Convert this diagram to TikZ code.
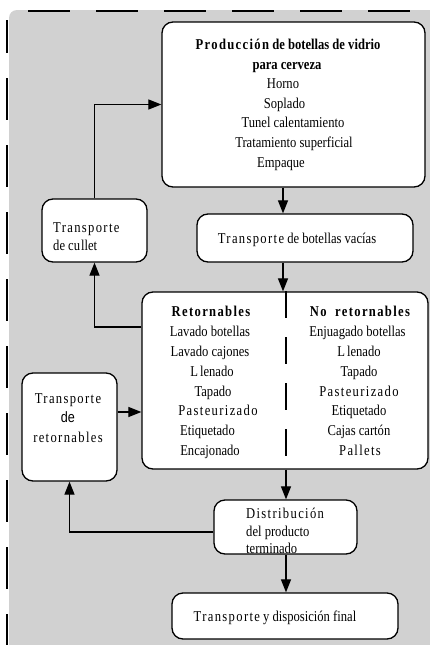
\documentclass[tikz,border=0pt]{standalone}
\usepackage{fontspec}
\setmainfont{Liberation Serif}[FakeStretch=0.84]
\newfontfamily\spacedfont{Liberation Serif}[FakeStretch=0.84, LetterSpace=9]
\newfontfamily\arialfont{Liberation Sans}[FakeStretch=0.84]
\usetikzlibrary{arrows.meta}
\definecolor{panel}{RGB}{209,209,209}

\begin{document}
\begin{tikzpicture}[x=1pt,y=-1pt,
  box/.style={draw, line width=1.3pt, rounded corners=11pt, fill=white, inner sep=0pt},
  flow/.style={line width=1.2pt, -{Triangle[length=13pt,width=10pt]}},
  txt/.style={anchor=base, inner sep=0pt, font=\fontsize{15}{17}\selectfont},
  ltxt/.style={txt, anchor=base west},
  frame/.style={line width=1.4pt, dash pattern=on 42pt off 26pt}]

\useasboundingbox (0,0) rectangle (430,645);

% panel background with its dashed top and left edges
\fill[white] (0,0) rectangle (430,645);
\fill[panel] (9,660) [rounded corners=8pt] -- (9,10) -- (450,10) [sharp corners] -- (450,660) -- cycle;
\draw[frame] (28,11) -- (430,11);
\draw[frame, dash pattern=on 42pt off 25pt, dash phase=9pt] (7,20) -- (7,645);

% boxes
\node[box, minimum width=263pt, minimum height=165pt] (prod)   at (293.5,104.5) {};
\node[box, minimum width=105pt, minimum height=63pt]  (cullet) at (94.5,230.5) {};
\node[box, minimum width=216pt, minimum height=48pt]  (vacias) at (305,238) {};
\node[box, minimum width=286pt, minimum height=177pt] (ret)    at (285,380.5) {};
\node[box, minimum width=95pt,  minimum height=108pt] (tret)   at (69.5,427) {};
\node[box, minimum width=143pt, minimum height=54pt]  (dist)   at (285.5,527) {};
\node[box, minimum width=226pt, minimum height=46pt]  (final)  at (285,616) {};

% production of glass bottles
\node[txt] (p0) at (288,49) {\bfseries{\spacedfont Producción} de botellas de vidrio};
\node[txt] (p1) at (287,69) {\bfseries para cerveza};
\node[txt] (p2) at (283,88) {Horno};
\node[txt] (p3) at (284.5,108) {Soplado};
\node[txt] (p4) at (293,127.5) {Tunel calentamiento};
\node[txt] (p5) at (294,147) {Tratamiento superficial};
\node[txt] (p6) at (281,167) {Empaque};

% transport boxes
\node[ltxt] (c0) at (53,232) {\spacedfont Transporte};
\node[ltxt] (c1) at (53,250) {de cu\kern1pt llet};
\node[txt]  (v0) at (297,243) {{\spacedfont Transporte} de botellas vacías};
\node[txt]  (r0) at (68,403) {\spacedfont Transporte};
\node[txt]  (r1) at (68,422) {\arialfont de};
\node[txt]  (r2) at (68,442) {\spacedfont retornables};

% returnable / non-returnable columns
\node[txt] (a0) at (211,316) {\bfseries\spacedfont Retornables};
\foreach \x/\y/\t [count=\i] in {
  210/336/Lavado botellas, 210/356/Lavado cajones, 212/376/L\kern2pt lenado,
  213/396/Tapado, 218/415/{\spacedfont Pasteurizado}, 207.5/435/Etiquetado,
  210/455/Encajonado}
  \node[txt] (a\i) at (\x,\y) {\t};

\node[txt] (b0) at (360,316) {\bfseries\spacedfont No\hspace{4pt} retornables};
\foreach \x/\y/\t [count=\i] in {
  357.5/336/Enjuagado botellas, 359/356/L\kern2pt lenado, 359/376/Tapado,
  359/396/{\spacedfont Pasteurizado}, 359/415/Etiquetado, 359/435/Cajas cartón,
  360/455/{\spacedfont Pallets}}
  \node[txt] (b\i) at (\x,\y) {\t};

\draw[line width=1.2pt, dash pattern=on 27pt off 19pt] (ret.north -| 286,0) -- (286,462);

% distribution and final disposal
\node[ltxt] (d0) at (246,518) {\spacedfont Distribución};
\node[ltxt] (d1) at (246,536) {del producto};
\node[ltxt] (d2) at (246,553) {terminado};
\node[txt]  (f0) at (275,621) {{\spacedfont Transporte} y disposición final};

% connectors
\coordinate (xa) at (283,0);
\coordinate (xb) at (286,0);
\coordinate (ya) at (0,327);
\coordinate (yb) at (0,412);
\coordinate (yc) at (0,532);
\draw[flow] (prod.south -| xa) -- (vacias.north -| xa);
\draw[flow] (vacias.south -| xa) -- (ret.north -| xa);
\draw[flow] (ret.south -| xb) -- (dist.north -| xb);
\draw[flow] (dist.south -| xb) -- (final.north -| xb);
\draw[flow] (ret.west |- ya) -| (cullet.south);
\draw[flow] (cullet.north) |- (prod.west);
\draw[flow] (tret.east |- yb) -- (ret.west |- yb);
\draw[flow] (dist.west |- yc) -| (tret.south);
\end{tikzpicture}
\end{document}
